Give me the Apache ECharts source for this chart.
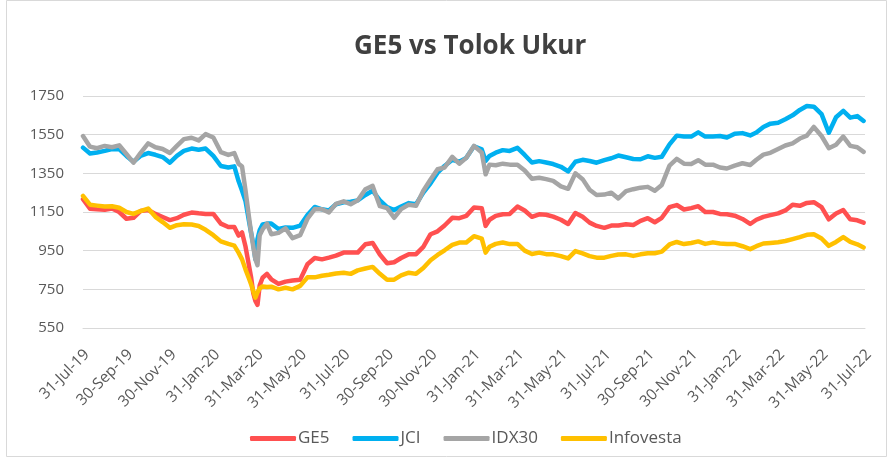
<!DOCTYPE html>
<html><head><meta charset="utf-8">
<script src="https://cdn.jsdelivr.net/npm/echarts@6/dist/echarts.min.js"></script>
<style>html,body{margin:0;padding:0;background:#fff}#c{width:889px;height:460px}</style>
</head><body><div id="c"></div>
<script>
const dates = [
'2019-07-31',
'2019-08-10','2019-08-20','2019-08-31','2019-09-10','2019-09-20','2019-09-30',
'2019-10-10','2019-10-20','2019-10-31','2019-11-10','2019-11-20','2019-11-30',
'2019-12-10','2019-12-20','2019-12-31',
'2020-01-10','2020-01-20','2020-01-31','2020-02-10','2020-02-20','2020-02-28',
'2020-03-05','2020-03-10','2020-03-15','2020-03-20','2020-03-23','2020-03-26','2020-03-29',
'2020-04-01','2020-04-04','2020-04-08','2020-04-14','2020-04-20','2020-04-30',
'2020-05-10','2020-05-20','2020-05-31','2020-06-10','2020-06-20','2020-06-30',
'2020-07-10','2020-07-20','2020-07-31','2020-08-10','2020-08-20','2020-08-31',
'2020-09-10','2020-09-20','2020-09-30','2020-10-10','2020-10-20','2020-10-31',
'2020-11-10','2020-11-20','2020-11-30','2020-12-10','2020-12-20','2020-12-31',
'2021-01-10','2021-01-20','2021-01-31','2021-02-10','2021-02-15','2021-02-20','2021-02-28',
'2021-03-10','2021-03-20','2021-03-31','2021-04-10','2021-04-20','2021-04-30',
'2021-05-10','2021-05-20','2021-05-31','2021-06-10','2021-06-20','2021-06-30',
'2021-07-10','2021-07-20','2021-07-31','2021-08-10','2021-08-20','2021-08-31',
'2021-09-10','2021-09-20','2021-09-30','2021-10-10','2021-10-20','2021-10-31',
'2021-11-10','2021-11-20','2021-11-30','2021-12-10','2021-12-20','2021-12-31',
'2022-01-10','2022-01-20','2022-01-31','2022-02-10','2022-02-20','2022-02-28',
'2022-03-10','2022-03-20','2022-03-31','2022-04-10','2022-04-20','2022-04-30',
'2022-05-10','2022-05-20','2022-05-31','2022-06-10','2022-06-20','2022-06-30',
'2022-07-10','2022-07-20','2022-07-29'
];
const jci = [
1483,
1453,1458,1466,1476,1475,1440,
1410,1440,1455,1446,1434,1405,
1440,1466,1478,
1472,1478,1440,1388,1380,1386,
1310,1260,1205,1100,1040,985,906,
1010,1055,1085,1090,1090,1062,
1070,1068,1080,1135,1176,1164,
1158,1190,1200,1203,1210,1238,
1260,1210,1175,1160,1178,1196,
1190,1250,1298,1353,1388,1420,
1410,1430,1490,1474,1414,1440,1457,
1470,1466,1482,1445,1406,1413,
1406,1398,1384,1360,1410,1420,
1414,1405,1418,1428,1442,1433,
1424,1423,1438,1430,1436,1500,
1545,1540,1540,1562,1540,1541,
1543,1535,1555,1558,1546,1561,
1590,1607,1612,1630,1650,1678,
1698,1695,1656,1560,1640,1673,
1638,1646,1621
];
const idx30 = [
1543,
1488,1480,1492,1485,1495,1450,
1405,1455,1505,1485,1476,1455,
1492,1527,1534,
1520,1553,1535,1460,1445,1455,
1400,1385,1260,1120,1040,970,906,
875,1030,1060,1090,1035,1042,
1065,1015,1030,1115,1165,1164,
1148,1192,1205,1190,1210,1268,
1285,1180,1170,1120,1165,1188,
1182,1260,1318,1371,1380,1435,
1400,1430,1492,1457,1345,1395,1392,
1400,1395,1395,1365,1322,1327,
1320,1311,1283,1270,1350,1320,
1265,1238,1240,1250,1220,1258,
1268,1276,1280,1260,1290,1390,
1425,1400,1398,1418,1395,1395,
1380,1375,1390,1402,1393,1420,
1447,1456,1476,1494,1505,1530,
1545,1590,1543,1480,1498,1540,
1492,1485,1461
];
const ge5 = [
1216,
1167,1164,1162,1168,1150,1115,
1120,1155,1160,1140,1124,1108,
1118,1136,1147,
1143,1140,1140,1090,1072,1072,
1028,1044,970,870,810,730,690,
670,770,810,830,802,778,
790,796,800,880,912,905,
914,924,940,940,940,983,
990,930,885,890,912,932,
932,970,1035,1050,1080,1120,
1118,1130,1173,1170,1078,1110,1130,
1138,1140,1178,1158,1125,1138,
1136,1126,1110,1088,1145,1125,
1095,1078,1068,1080,1080,1087,
1083,1104,1118,1097,1120,1175,
1186,1163,1170,1180,1150,1150,
1140,1138,1131,1114,1088,1110,
1125,1134,1143,1158,1188,1182,
1197,1201,1175,1112,1142,1160,
1112,1107,1095
];
const infovesta = [
1233,
1188,1183,1178,1180,1172,1150,
1140,1155,1168,1125,1098,1068,
1082,1087,1085,
1078,1058,1030,998,985,976,
940,905,852,805,775,740,707,
735,755,765,762,764,750,
758,750,768,812,812,820,
825,832,836,830,848,858,
866,830,800,800,822,836,
830,860,900,928,952,980,
992,992,1025,1012,940,970,985,
992,984,985,950,933,940,
932,931,922,910,948,936,
922,914,914,923,930,931,
923,931,937,937,945,982,
995,984,990,998,985,993,
987,984,985,973,958,973,
987,990,994,1000,1010,1020,
1032,1035,1013,975,995,1020,
995,983,966
];
const tickLabels = ['31-Jul-19','30-Sep-19','30-Nov-19','31-Jan-20','31-Mar-20','31-May-20','31-Jul-20','30-Sep-20','30-Nov-20','31-Jan-21','31-Mar-21','31-May-21','31-Jul-21','30-Sep-21','30-Nov-21','31-Jan-22','31-Mar-22','31-May-22','31-Jul-22'];
const seriesNames = ['GE5','JCI','IDX30','Infovesta'];
const colors = ['#FF5050','#00B0F0','#A5A5A5','#FFC000'];

function monthOffset(s){
  const [y,m,d] = s.split('-').map(Number);
  const dim = new Date(y, m, 0).getDate();
  return (y-2019)*12 + (m-7) + d/dim - 1;
}
const xs = dates.map(monthOffset);
const valueSets = [ge5, jci, idx30, infovesta];

const chart = echarts.init(document.getElementById('c'), null, {renderer:'canvas'});
chart.setOption({
  animation:false,
  backgroundColor:'#fff',
  color: colors,
  title:{text:'GE5 vs Tolok Ukur', left:349, top:29,
    textStyle:{fontFamily:'Open Sans', fontWeight:'bold', fontSize:26, color:'#404040'}},
  legend:{bottom:8, left:245, itemWidth:46, itemHeight:5, itemGap:23, icon:'roundRect',
    textStyle:{fontFamily:'Open Sans', fontSize:17, color:'#595959', padding:[0,0,0,-3]},
    data:seriesNames},
  grid:{left:83, right:24, top:96, bottom:132, containLabel:false},
  xAxis:{type:'value', min:0, max:36, interval:2,
    axisLine:{show:true, lineStyle:{color:'#D9D9D9'}}, axisTick:{show:false},
    splitLine:{show:false}, axisLabel:{show:false}},
  yAxis:{type:'value', min:550, max:1750, interval:200,
    axisLine:{show:false}, axisTick:{show:false},
    splitLine:{lineStyle:{color:'#D9D9D9', width:1}},
    axisLabel:{fontFamily:'Open Sans', fontSize:15, color:'#595959', margin:19,
      formatter:v=>String(v)}},
  series: seriesNames.map((n,i)=>({
    name:n, type:'line', showSymbol:false, symbol:'none',
    lineStyle:{width:4.5, color:colors[i], cap:'round', join:'round'},
    itemStyle:{color:colors[i]},
    data: xs.map((x,j)=>[x, valueSets[i][j]])
  }))
});
// x-axis tick labels placed through the axis scale
const baseY = chart.convertToPixel({yAxisIndex:0}, 550);
const labelEls = tickLabels.map((t,i)=>{
  const px = chart.convertToPixel({xAxisIndex:0}, i*2);
  return {type:'text', x:px+4, y:baseY+24, rotation:Math.PI/4, silent:true,
    style:{text:t, align:'right', verticalAlign:'middle', fontFamily:'Open Sans',
      fontSize:15.5, fill:'#595959'}};
});
chart.setOption({graphic:[{type:'rect', shape:{x:6.5, y:0.5, width:880, height:456},
    style:{fill:null, stroke:'#D9D9D9', lineWidth:1}, silent:true}].concat(labelEls)});
</script></body></html>
